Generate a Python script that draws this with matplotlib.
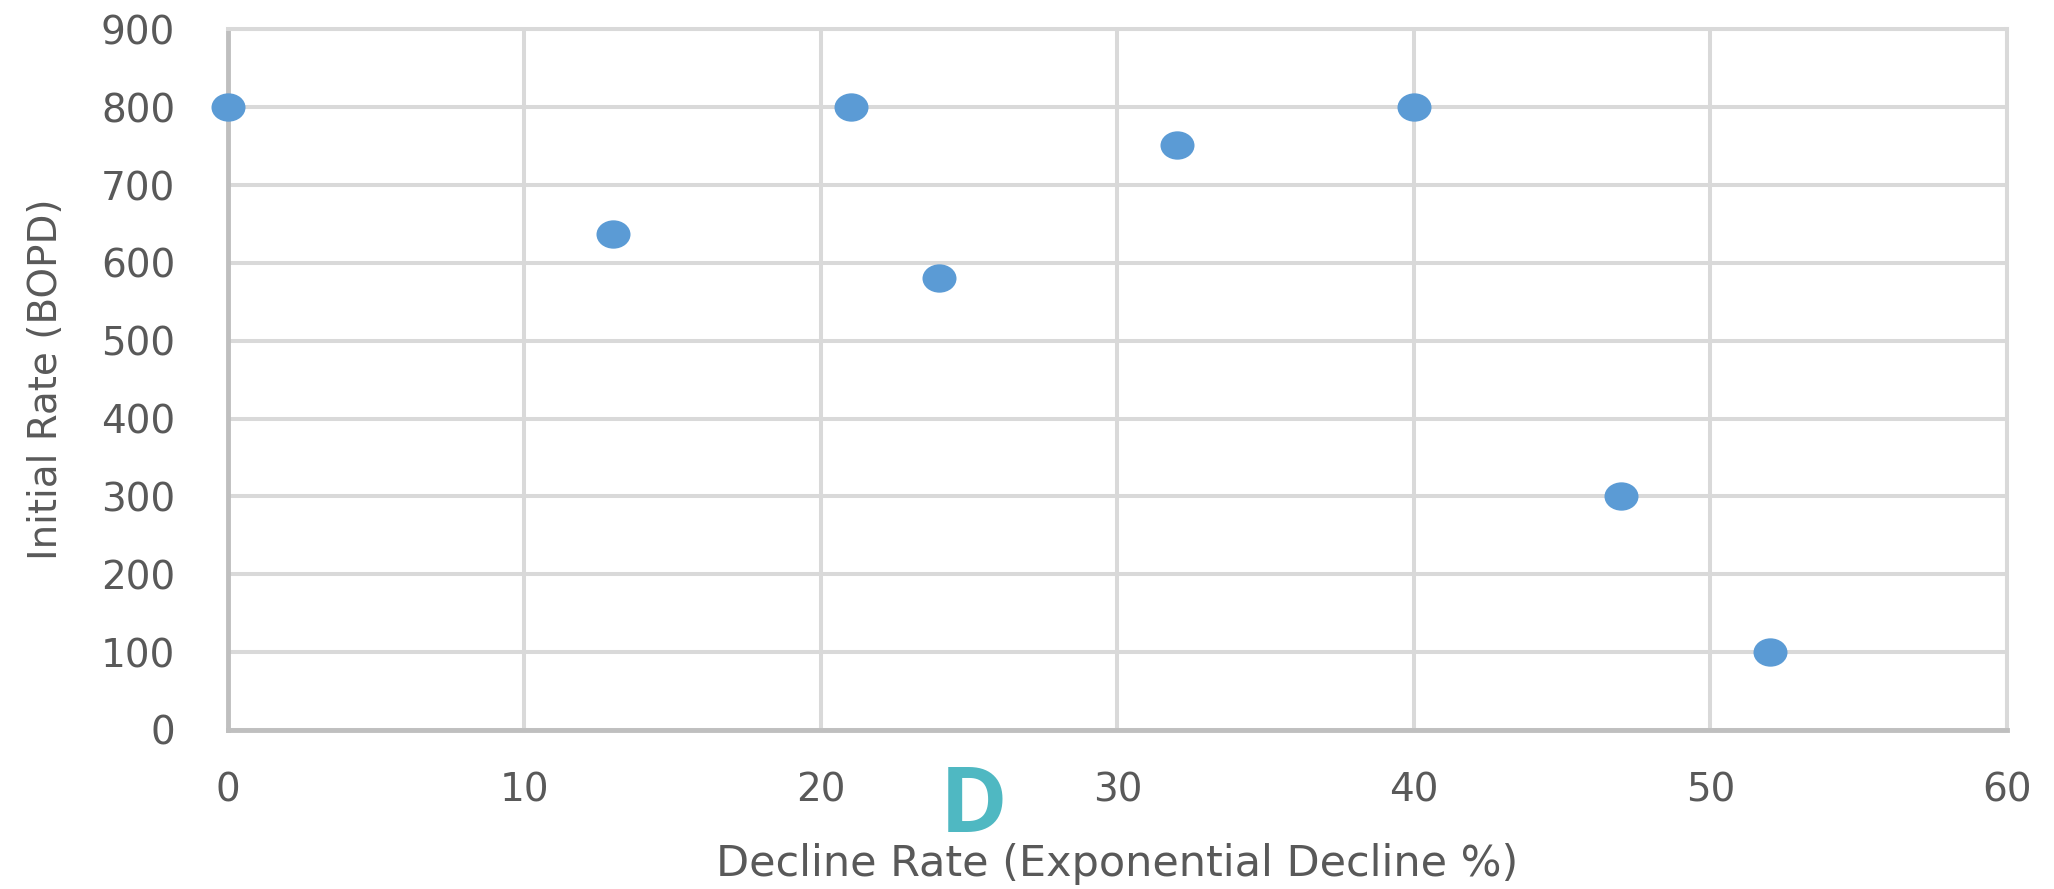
import matplotlib.pyplot as plt
import numpy as np
from matplotlib.path import Path
from matplotlib.transforms import Affine2D

# Decline rate vs initial rate for each well
decline_rate = [0, 13, 21, 24, 32, 40, 47, 52]
initial_rate = [800, 637, 800, 580, 752, 800, 300, 100]

x_ticks = [0, 10, 20, 30, 40, 50, 60]
y_ticks = [0, 100, 200, 300, 400, 500, 600, 700, 800, 900]

plt.rcParams['font.family'] = ['DejaVu Sans']

text_grey = "#595959"
grid_grey = "#d9d9d9"
axis_grey = "#bfbfbf"

# slightly wide ellipse marker
ellipse = Path.unit_circle().transformed(Affine2D().scale(1.2, 1.0))

fig = plt.figure(figsize=(20.54, 8.89), dpi=100)
ax = fig.add_axes([0.111, 0.179, 0.866, 0.788])

ax.scatter(decline_rate, initial_rate, marker=ellipse, s=600, color="#5b9bd5",
           linewidths=0, zorder=3, clip_on=False)

ax.set_xlim(0, 60)
ax.set_ylim(0, 900)
ax.set_xticks(x_ticks)
ax.set_yticks(y_ticks)
ax.grid(True, color=grid_grey, linewidth=2.9, zorder=0)
ax.set_axisbelow(True)

for side in ["top", "right"]:
    ax.spines[side].set_color(grid_grey)
    ax.spines[side].set_linewidth(2.9)
for side in ["left", "bottom"]:
    ax.spines[side].set_color(axis_grey)
    ax.spines[side].set_linewidth(3.5)

ax.tick_params(axis="both", length=0, labelsize=28, labelcolor=text_grey)
ax.tick_params(axis="y", pad=38)
ax.tick_params(axis="x", pad=30)

ax.set_xlabel("Decline Rate (Exponential Decline %)", fontsize=31, color=text_grey, labelpad=24)
ax.set_ylabel("Initial Rate (BOPD)", fontsize=28, color=text_grey, labelpad=26)

fig.text(0.474, 0.064, "D", fontsize=66, fontweight="bold", color="#4fb8c2",
         family="Open Sans", ha="center", va="baseline")

fig.savefig("out.png", dpi=100)
